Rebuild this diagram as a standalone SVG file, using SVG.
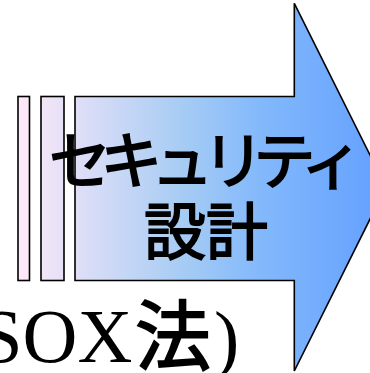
<svg xmlns="http://www.w3.org/2000/svg" width="370" height="373" viewBox="0 0 370 373">
<defs>
<linearGradient id="g" gradientUnits="userSpaceOnUse" x1="18" y1="0" x2="386" y2="0">
<stop offset="0" stop-color="#ffe9f8"/>
<stop offset="0.45" stop-color="#a6ccf4"/>
<stop offset="0.65" stop-color="#84b9fb"/>
<stop offset="1" stop-color="#62a0ff"/>
</linearGradient>
</defs>
<style>
.shape{fill:url(#g);stroke:#000;stroke-width:1.6;stroke-linejoin:miter}
.jp{font-family:"Noto Sans CJK JP","Noto Sans CJK SC",sans-serif;font-weight:normal;fill:#000;stroke:#000;stroke-width:1.8}
.serif{font-family:"Liberation Serif","Times New Roman",serif;fill:#000}
</style>
<g id="bar1"><rect class="shape" x="18" y="96.5" width="11.5" height="184"/></g>
<g id="bar2"><rect class="shape" x="41" y="96.5" width="23" height="184"/></g>
<g id="arrow">
<path class="shape" d="M75,96.5 H294.3 V3.3 L386,187 L294.3,371 V280.5 H75 Z"/>
<text class="jp" x="49" y="184" font-size="62" textLength="314" lengthAdjust="spacing">セキュリティ</text>
<text class="jp" x="206" y="255" font-size="62" text-anchor="middle">設計</text>
</g>
<g id="label">
<text class="serif" font-size="76" y="362"><tspan x="-45">(SOX</tspan><tspan class="jp" x="135" y="364" font-size="76">法</tspan><tspan x="214">)</tspan></text>
</g>
</svg>
